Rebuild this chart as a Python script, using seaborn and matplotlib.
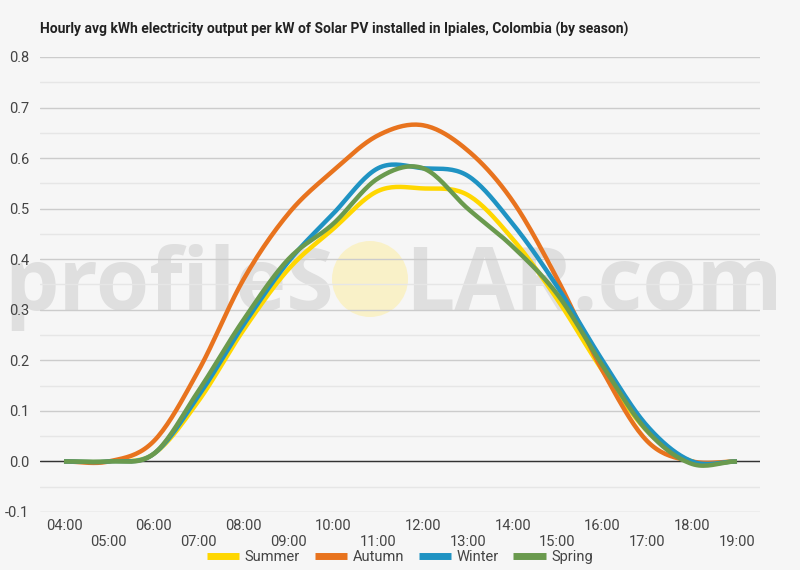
import matplotlib
matplotlib.use("Agg")
import matplotlib.pyplot as plt
import seaborn as sns
import numpy as np
import pandas as pd
from matplotlib.patches import Circle

hours = list(range(4, 20))
hour_labels = ["%02d:00" % h for h in hours]

summer = [0.0, 0.0, 0.015, 0.12, 0.26, 0.38, 0.46, 0.535, 0.54, 0.527, 0.44, 0.32, 0.18, 0.06, 0.0, 0.0]
autumn = [0.0, 0.0, 0.04, 0.18, 0.36, 0.49, 0.575, 0.645, 0.665, 0.615, 0.515, 0.36, 0.18, 0.04, 0.0, 0.0]
winter = [0.0, 0.0, 0.015, 0.13, 0.27, 0.395, 0.49, 0.58, 0.58, 0.565, 0.47, 0.345, 0.2, 0.07, 0.0, 0.0]
spring = [0.0, 0.0, 0.015, 0.14, 0.28, 0.40, 0.47, 0.56, 0.58, 0.50, 0.425, 0.33, 0.19, 0.06, -0.005, 0.0]

seasons = ["Summer", "Autumn", "Winter", "Spring"]
colors = ["#FFD700", "#E8731E", "#1F93C3", "#6A9A4E"]


# smooth curve through the hourly points (catmull-rom), for drawing only
def smooth(x, y, n=20):
    x = np.asarray(x, float)
    y = np.asarray(y, float)
    m = np.zeros_like(y)
    m[1:-1] = (y[2:] - y[:-2]) / 2
    xs, ys = [], []
    t = np.linspace(0, 1, n, endpoint=False)
    h00 = 2 * t ** 3 - 3 * t ** 2 + 1
    h10 = t ** 3 - 2 * t ** 2 + t
    h01 = -2 * t ** 3 + 3 * t ** 2
    h11 = t ** 3 - t ** 2
    for i in range(len(x) - 1):
        xs.extend(x[i] + t * (x[i + 1] - x[i]))
        ys.extend(h00 * y[i] + h10 * m[i] + h01 * y[i + 1] + h11 * m[i + 1])
    xs.append(x[-1])
    ys.append(y[-1])
    return np.array(xs), np.array(ys)


rows = []
for name, vals in zip(seasons, [summer, autumn, winter, spring]):
    sx, sy = smooth(hours, vals)
    rows.append(pd.DataFrame({"hour": sx, "kwh": sy, "season": name}))
df = pd.concat(rows, ignore_index=True)

sns.set_style("white")
plt.rcParams["font.family"] = ["Roboto", "DejaVu Sans"]

fig = plt.figure(figsize=(8, 5.7), dpi=100, facecolor="#f6f6f6")
ax = fig.add_axes([0.05, 0.1018, 0.90, 0.7982])
ax.set_facecolor("#f6f6f6")

# grid
for v in np.arange(-0.1, 0.81, 0.1):
    ax.axhline(v, color="#cccccc", lw=1, zorder=1)
for v in np.arange(-0.05, 0.8, 0.1):
    ax.axhline(v, color="#e6e6e6", lw=1, zorder=1)
ax.axhline(0, color="#333333", lw=1, zorder=2)

# watermark
ax.text(0.417, 0.456, "profileS", transform=fig.transFigure, fontsize=62,
        family="Open Sans", weight="bold", color="#dfdfdf",
        ha="right", va="baseline", zorder=0.5)
ax.text(0.506, 0.456, "LAR.com", transform=fig.transFigure, fontsize=63,
        family="Open Sans", weight="bold", color="#dfdfdf",
        ha="left", va="baseline", zorder=0.5)
ax.add_patch(Circle((370, 570 - 279), 38, transform=None,
                    facecolor="#fbf0bd", edgecolor="none", alpha=0.8, zorder=0.6))

sns.lineplot(data=df, x="hour", y="kwh", hue="season", hue_order=seasons,
             palette=colors, lw=3.2, ax=ax, sort=False, estimator=None, zorder=3,
             solid_capstyle="butt")

ax.set_xlim(3.465, 19.513)
ax.set_ylim(-0.1, 0.8)
ax.set_yticks(np.arange(-0.1, 0.81, 0.1))
ax.set_yticklabels(["%.1f" % v for v in np.arange(-0.1, 0.81, 0.1)])
ax.set_xticks(hours)
ax.set_xticklabels([lab if i % 2 == 0 else "\n" + lab for i, lab in enumerate(hour_labels)])
ax.tick_params(axis="both", length=0, labelsize=10.5, labelcolor="#444444", pad=5)
ax.tick_params(axis="y", pad=8)
for s in ax.spines.values():
    s.set_visible(False)
ax.set_xlabel("")
ax.set_ylabel("")

fig.text(0.05, 0.949, "Hourly avg kWh electricity output per kW of Solar PV installed in Ipiales, Colombia (by season)",
         fontsize=10, weight="bold", color="#222222", va="center")

leg = ax.legend(loc="center", bbox_to_anchor=(0.5, 0.022), bbox_transform=fig.transFigure,
                ncol=4, frameon=False, fontsize=10.5, handlelength=2.2, handletextpad=0.4,
                columnspacing=1.0)
for t in leg.get_texts():
    t.set_color("#444444")
for h in leg.get_lines():
    h.set_linewidth(5)

fig.savefig("out.png", dpi=100, facecolor=fig.get_facecolor())
